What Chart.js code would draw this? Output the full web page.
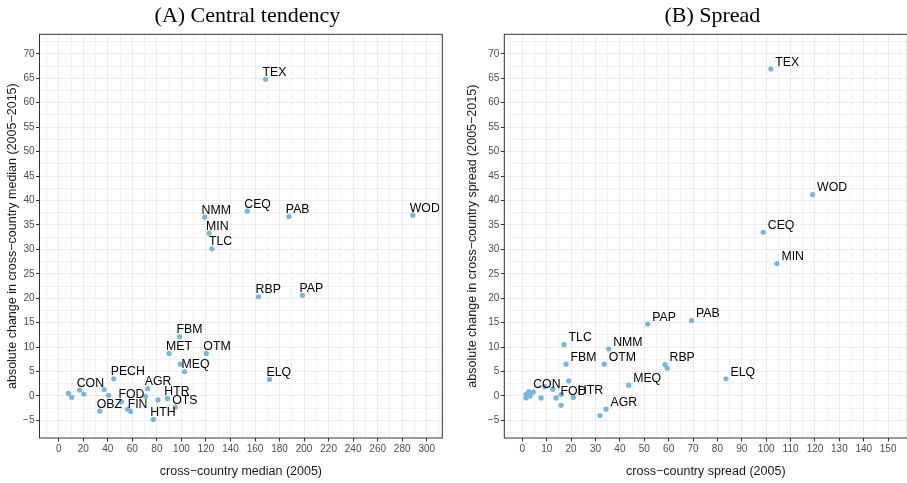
<!DOCTYPE html>
<html>
<head>
<meta charset="utf-8">
<script src="https://cdn.jsdelivr.net/npm/chart.js@4.4.0/dist/chart.umd.min.js"></script>
<style>
body{margin:0;background:#fff;overflow:hidden;width:907px;height:483px;position:relative}
#left{position:absolute;left:0;top:0}
#right{position:absolute;left:460px;top:0}
</style>
</head>
<body>
<canvas id="left" width="452" height="483"></canvas>
<canvas id="right" width="450" height="483"></canvas>
<script>
// panel A - central tendency
const medLabels = ['TEX','WOD','CEQ','NMM','PAB','MIN','TLC','RBP','PAP','ELQ','FBM','MET','OTM','','MEQ','PECH','CON','','','','','','AGR','','FOD','','HTR','OTS','OBZ','','FIN','HTH'];
const medX = [168.6,288.6,153.7,118.9,187.6,122.5,124.9,162.9,198.7,171.8,98.5,89.9,120.3,99.1,102.6,44.8,17.1,7.9,10.6,20.4,37.0,40.5,72.5,70.8,51.1,80.9,88.5,95.0,33.4,56.2,58.6,77.1];
const medY = [64.8,37.0,37.8,36.6,36.7,33.3,30.1,20.3,20.6,3.4,12.1,8.7,8.7,6.5,5.0,3.5,1.2,0.55,-0.27,0.4,1.3,0.15,1.5,-0.06,-1.2,-0.8,-0.5,-2.3,-3.1,-2.7,-3.2,-4.8];

// panel B - spread
const sprLabels = ['TEX','WOD','CEQ','MIN','PAB','PAP','TLC','NMM','FBM','OTM','RBP','','MEQ','ELQ','','','','CON','','','','','','FOD','','HTR','','AGR',''];
const sprX = [101.9,119.0,98.8,104.4,69.4,51.4,17.1,35.4,17.9,33.6,58.5,59.4,43.6,83.5,19.0,9.3,12.5,2.6,4.5,1.5,1.5,3.2,7.7,13.8,15.9,20.9,15.9,34.3,31.8];
const sprY = [66.9,41.2,33.5,27.1,15.4,14.7,10.5,9.6,6.5,6.5,6.4,5.7,2.2,3.5,3.1,1.9,1.4,0.9,0.8,0.3,-0.4,0.0,-0.4,-0.4,0.3,-0.3,-1.9,-2.7,-4.0];

// tick labels
const yTicks = [-5,0,5,10,15,20,25,30,35,40,45,50,55,60,65,70];
const xTicksA = [0,20,40,60,80,100,120,140,160,180,200,220,240,260,280,300];
const xTicksB = [0,10,20,30,40,50,60,70,80,90,100,110,120,130,140,150];

const sans = '"Liberation Sans", Arial, sans-serif';

function fmt(v){ return v < 0 ? '\u2212' + (-v) : '' + v; }

// majors plus the minor lines halfway between (ggplot style)
function withMinor(major){
    let step = major[1] - major[0], all = [major[0] - step/2];
    major.forEach(v => { all.push(v); all.push(v + step/2); });
    return all;
}

function axis(major, min, max, title, fitFn){
    let all = withMinor(major);
    return {
        type: 'linear', min: min, max: max,
        afterBuildTicks: s => { s.ticks = all.map(v => ({value: v})); },
        afterFit: fitFn,
        ticks: {autoSkip: false, maxRotation: 0, padding: 1.5, color: '#4d4d4d',
            font: {size: 10, family: sans},
            callback: v => major.includes(v) ? fmt(v) : ''},
        grid: {color: '#ebebeb',
            lineWidth: c => major.includes(c.tick.value) ? 1 : 0.7,
            tickLength: 3.5,
            tickColor: c => major.includes(c.tick.value) ? '#333333' : 'rgba(0,0,0,0)'},
        border: {display: false},
        title: {display: true, text: title, color: '#1a1a1a',
            font: {size: 12.5, family: sans, lineHeight: 1.2},
            padding: {top: 5, bottom: 3.5}}
    };
}

const decor = {
    id: 'decor',
    afterDatasetsDraw(chart, args, o){
        let ctx = chart.ctx, meta = chart.getDatasetMeta(0);
        ctx.save();
        ctx.font = '12.3px ' + sans;
        ctx.fillStyle = '#000';
        ctx.textAlign = 'left';
        ctx.textBaseline = 'middle';
        meta.data.forEach((pt, i) => {
            if (o.labels[i]) ctx.fillText(o.labels[i], pt.x + o.dx, pt.y + o.dy);
        });
        ctx.restore();
    },
    afterDraw(chart, args, o){
        let ctx = chart.ctx, a = chart.chartArea;
        ctx.save();
        ctx.strokeStyle = '#333333';
        ctx.lineWidth = 1;
        ctx.strokeRect(a.left, a.top, a.right - a.left, a.bottom - a.top);
        ctx.font = '22px "Liberation Serif", "Times New Roman", serif';
        ctx.fillStyle = '#000';
        ctx.textAlign = 'center';
        ctx.textBaseline = 'middle';
        ctx.fillText(o.title, (a.left + a.right) / 2 + 6.5, 16.5);
        ctx.restore();
    }
};

function makeChart(id, xs, ys, labels, cfg){
    return new Chart(document.getElementById(id), {
        type: 'scatter',
        data: {datasets: [{
            data: xs.map((x, i) => ({x: x, y: ys[i]})),
            backgroundColor: '#7ab5db',
            borderWidth: 0,
            pointRadius: 2.6,
            pointHoverRadius: 2.6
        }]},
        options: {
            responsive: false,
            animation: false,
            layout: {padding: {top: 34.3, right: cfg.padRight, bottom: 0, left: 0}},
            scales: {
                x: axis(cfg.xTicks, cfg.xmin, cfg.xmax, cfg.xTitle, s => { s.height = 45; }),
                y: axis(yTicks, -8.6, 74, cfg.yTitle, s => { s.width = cfg.yWidth; })
            },
            plugins: {
                legend: {display: false},
                tooltip: {enabled: false},
                decor: {labels: labels, dx: cfg.dx, dy: cfg.dy, title: cfg.title}
            }
        },
        plugins: [decor]
    });
}

makeChart('left', medX, medY, medLabels, {
    title: '(A) Central tendency',
    xTicks: xTicksA, xmin: -15.7, xmax: 312.7,
    xTitle: 'cross\u2212country median (2005)',
    yTitle: 'absolute change in cross\u2212country median (2005\u22122015)',
    yWidth: 39.5, padRight: 9.7, dx: -3, dy: -6.8
});

makeChart('right', sprX, sprY, sprLabels, {
    title: '(B) Spread',
    xTicks: xTicksB, xmin: -7.4, xmax: 157.9,
    xTitle: 'cross\u2212country spread (2005)',
    yTitle: 'absolute change in cross\u2212country spread (2005\u22122015)',
    yWidth: 44.3, padRight: 2.4, dx: 4.5, dy: -6.7
});
</script>
</body>
</html>
